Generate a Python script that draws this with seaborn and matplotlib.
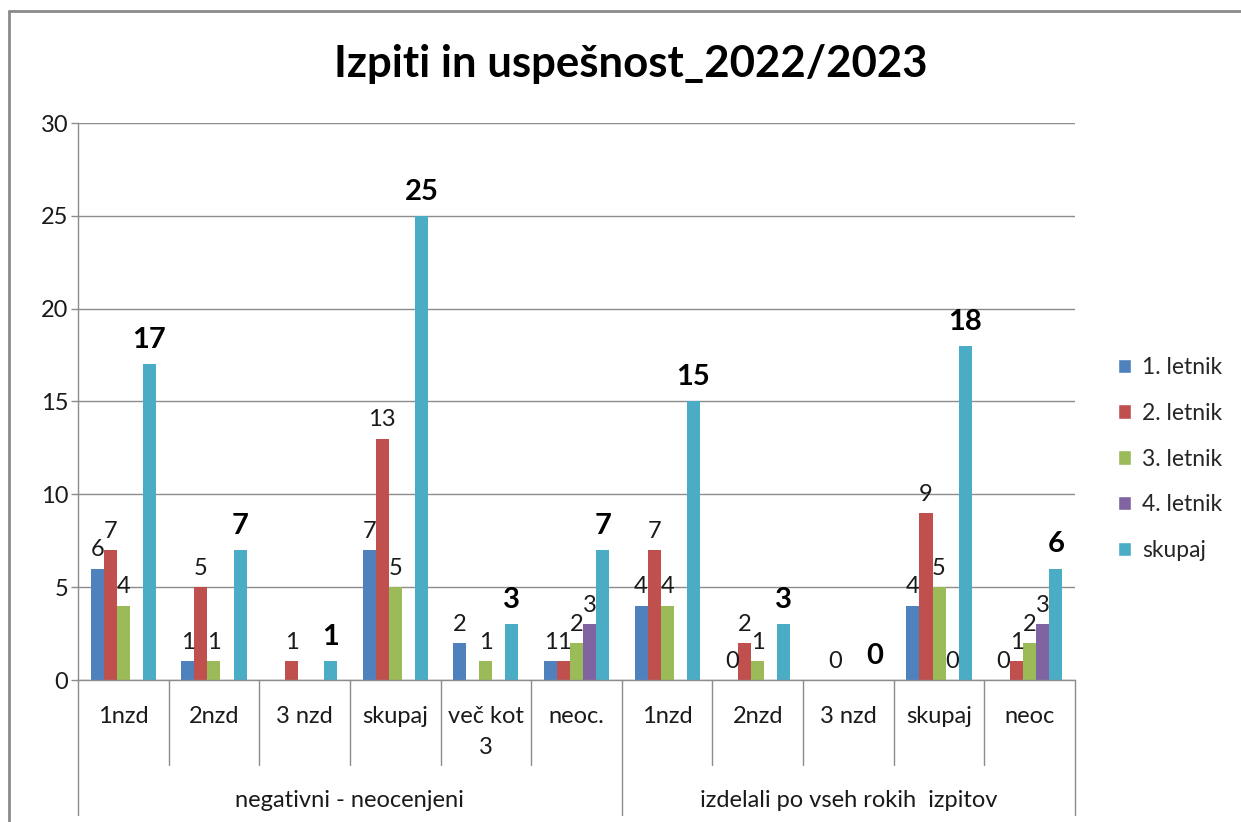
import numpy as np
import pandas as pd
import seaborn as sns
import matplotlib.pyplot as plt
from matplotlib.patches import Patch
from matplotlib.transforms import blended_transform_factory

categories = ["1nzd", "2nzd", "3 nzd", "skupaj", "več kot\n3", "neoc.",
              "1nzd", "2nzd", "3 nzd", "skupaj", "neoc"]
groups = ["negativni - neocenjeni", "izdelali po vseh rokih  izpitov"]
group_sizes = [6, 5]

series = ["1. letnik", "2. letnik", "3. letnik", "4. letnik", "skupaj"]
letnik1 = [6, 1, np.nan, 7, 2, 1, 4, 0, np.nan, 4, 0]
letnik2 = [7, 5, 1, 13, np.nan, 1, 7, 2, 0, 9, 1]
letnik3 = [4, 1, np.nan, 5, 1, 2, 4, 1, np.nan, 5, 2]
letnik4 = [np.nan, np.nan, np.nan, np.nan, np.nan, 3, np.nan, np.nan, np.nan, 0, 3]
skupaj = [17, 7, 1, 25, 3, 7, 15, 3, 0, 18, 6]

colors = ["#4F81BD", "#C0504D", "#9BBB59", "#8064A2", "#4BACC6"]

rows = []
for name, vals in zip(series, [letnik1, letnik2, letnik3, letnik4, skupaj]):
    for i, v in enumerate(vals):
        rows.append({"pos": i, "serija": name, "vrednost": v})
df = pd.DataFrame(rows)

sns.set_style("white")
plt.rcParams["font.family"] = ["Lato", "DejaVu Sans"]

fig = plt.figure(figsize=(12.41, 8.22), dpi=100)
ax = fig.add_axes([78 / 1241, 1 - 680 / 822, (1075 - 78) / 1241, (680 - 123) / 822])

sns.barplot(data=df, x="pos", y="vrednost", hue="serija", hue_order=series,
            palette=colors, saturation=1, width=0.72, linewidth=0,
            legend=False, ax=ax)

txt_c = "#1a1a1a"
for cont, name in zip(ax.containers, series):
    if name == "skupaj":
        ax.bar_label(cont, fmt="%g", padding=8, fontsize=21, fontweight="bold", color="black")
    else:
        ax.bar_label(cont, fmt="%g", padding=6, fontsize=17, color=txt_c)

grid_c = "#8c8c8c"
ax.set_ylim(0, 30)
ax.set_yticks(range(0, 31, 5))
ax.yaxis.grid(True, color=grid_c, linewidth=1)
ax.set_axisbelow(True)
ax.set_xlim(-0.5, len(categories) - 0.5)
ax.set_xticks(range(len(categories)))
ax.set_xticklabels(categories, fontsize=17, linespacing=1.55, va="top")
ax.tick_params(axis="x", length=0, pad=19)
ax.tick_params(axis="y", length=5, width=1, color=grid_c, labelsize=17, pad=2, left=True)
for lbl in ax.get_xticklabels() + ax.get_yticklabels():
    lbl.set_color(txt_c)
ax.set_xlabel("")
ax.set_ylabel("")
for s in ["top", "right"]:
    ax.spines[s].set_visible(False)
for s in ["left", "bottom"]:
    ax.spines[s].set_color(grid_c)
    ax.spines[s].set_linewidth(1)

# multi-level category axis separators
trans = blended_transform_factory(ax.transData, ax.transAxes)
bounds = np.cumsum([0] + group_sizes) - 0.5
for b in np.arange(-0.5, len(categories), 1.0):
    low = -0.243 if b in bounds else -0.152
    ax.plot([b, b], [0, low], transform=trans, color=grid_c, lw=1, clip_on=False)
start = 0
for g, n in zip(groups, group_sizes):
    ax.text(start + (n - 1) / 2, -0.216, g, transform=trans, ha="center", va="center",
            fontsize=17, color=txt_c)
    start += n

fig.text(0.508, 0.922, "Izpiti in uspešnost_2022/2023", ha="center", va="center",
         fontsize=31.5, fontweight="bold", color="black")

handles = [Patch(facecolor=c, label=s) for c, s in zip(colors, series)]
fig.legend(handles=handles, loc="center left", bbox_to_anchor=(0.884, 0.4416),
           frameon=False, fontsize=16.5, handlelength=0.6, handleheight=0.6,
           handletextpad=0.45, labelspacing=1.08, borderpad=0.4)

# chart border
fig.add_artist(plt.Line2D([9 / 1241, 9 / 1241], [0, 1 - 11 / 822], color="#8a8a8a", lw=2))
fig.add_artist(plt.Line2D([9 / 1241, 1], [1 - 11 / 822, 1 - 11 / 822], color="#8a8a8a", lw=2))

fig.savefig("out.png", dpi=100)
